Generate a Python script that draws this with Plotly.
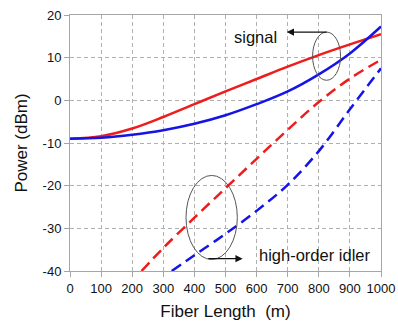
import plotly.graph_objects as go

# Data
fiber_length = [0, 100, 200, 300, 400, 500, 600, 700, 800, 900, 1000]
signal_red = [-9.0, -8.4, -6.6, -3.9, -0.9, 2.1, 5.0, 7.9, 10.6, 13.1, 15.5]
signal_blue = [-9.0, -8.75, -8.05, -7.0, -5.5, -3.5, -0.9, 2.1, 6.1, 11.0, 17.3]

idler_red_x = [230, 300, 400, 500, 600, 700, 800, 900, 1000]
idler_red = [-40.0, -34.6, -27.5, -20.6, -13.7, -6.9, -0.4, 5.1, 9.5]
idler_blue_x = [327, 400, 500, 600, 700, 800, 900, 1000]
idler_blue = [-40.0, -36.3, -31.3, -25.9, -19.8, -11.9, -2.1, 7.5]

x_ticks = [0, 100, 200, 300, 400, 500, 600, 700, 800, 900, 1000]
y_ticks = [-40, -30, -20, -10, 0, 10, 20]

RED = "#ee1c1c"
BLUE = "#1414e6"
FONT = "Liberation Sans, Arial, sans-serif"

fig = go.Figure()
fig.add_trace(go.Scatter(x=fiber_length, y=signal_red, mode="lines",
                         line=dict(color=RED, width=2.5, shape="spline", smoothing=1.0)))
fig.add_trace(go.Scatter(x=fiber_length, y=signal_blue, mode="lines",
                         line=dict(color=BLUE, width=2.5, shape="spline", smoothing=1.0)))
fig.add_trace(go.Scatter(x=idler_red_x, y=idler_red, mode="lines",
                         line=dict(color=RED, width=2.5, dash="11px,6px", shape="spline", smoothing=1.0)))
fig.add_trace(go.Scatter(x=idler_blue_x, y=idler_blue, mode="lines",
                         line=dict(color=BLUE, width=2.5, dash="11px,6px", shape="spline", smoothing=1.0)))

axis_common = dict(
    showline=True, linecolor="#a6a6a6", linewidth=1, mirror=True,
    showgrid=True, gridcolor="#b0b0b0", gridwidth=1, griddash="4px,3px",
    ticks="outside", ticklen=5, tickcolor="#a6a6a6", tickwidth=1,
    zeroline=False, automargin=False,
    tickfont=dict(family=FONT, size=13, color="#111"),
)

fig.update_xaxes(range=[0, 1000], tickvals=x_ticks, ticktext=[str(v) for v in x_ticks],
                 title=dict(text="Fiber Length  (m)", font=dict(family=FONT, size=17, color="#111"), standoff=12),
                 **axis_common)
fig.update_yaxes(range=[-40, 20], tickvals=y_ticks, ticktext=[str(v) for v in y_ticks],
                 title=dict(text="Power (dBm)", font=dict(family=FONT, size=17, color="#111"), standoff=10),
                 **axis_common)

shapes = [
    dict(type="circle", xref="x", yref="y", x0=780, x1=870, y0=4.7, y1=16.0,
         line=dict(color="#555", width=1)),
    dict(type="circle", xref="x", yref="y", x0=373, x1=538, y0=-37.3, y1=-17.6,
         line=dict(color="#555", width=1)),
]

annotations = [
    dict(x=697, y=16.0, ax=830, ay=16.0, xref="x", yref="y", axref="x", ayref="y",
         showarrow=True, arrowhead=2, arrowsize=1.2, arrowwidth=1.2, arrowcolor="#111", text=""),
    dict(x=555, y=-37.1, ax=440, ay=-37.1, xref="x", yref="y", axref="x", ayref="y",
         showarrow=True, arrowhead=2, arrowsize=1.2, arrowwidth=1.2, arrowcolor="#111", text=""),
    dict(x=595, y=14.8, xref="x", yref="y", text="signal", showarrow=False,
         font=dict(family=FONT, size=16.5, color="#111")),
    dict(x=786, y=-36.3, xref="x", yref="y", text="high-order idler", showarrow=False,
         font=dict(family=FONT, size=16.5, color="#111")),
]

fig.update_layout(
    width=398, height=321,
    margin=dict(l=70, r=17, t=15, b=50),
    paper_bgcolor="white", plot_bgcolor="white",
    showlegend=False,
    shapes=shapes, annotations=annotations,
)

fig.write_html("out.html")
